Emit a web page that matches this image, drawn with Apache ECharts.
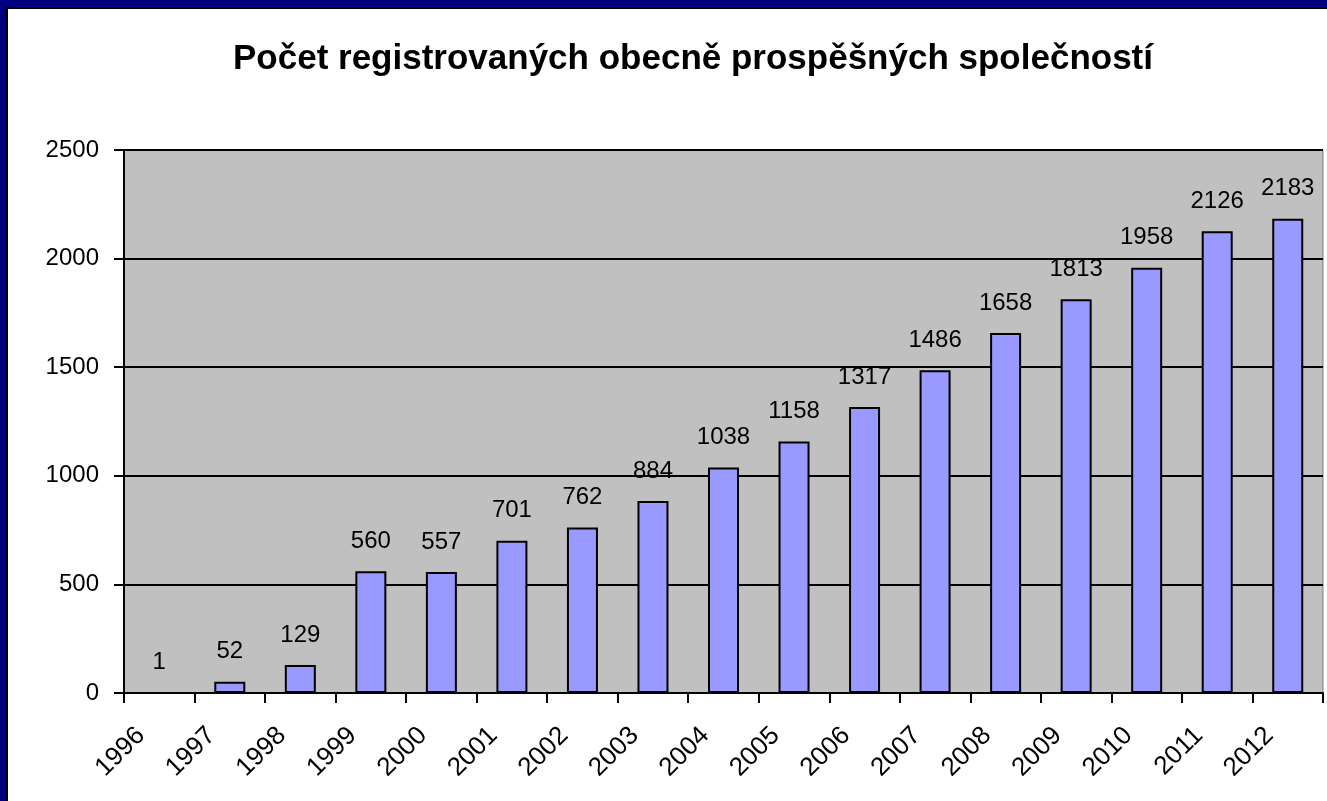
<!DOCTYPE html>
<html>
<head>
<meta charset="utf-8">
<title>Počet registrovaných obecně prospěšných společností</title>
<script src="https://cdn.jsdelivr.net/npm/echarts@6/dist/echarts.min.js"></script>
<style>
  html, body { margin: 0; padding: 0; width: 1327px; height: 801px; overflow: hidden; background: #000080; }
  #frame { position: absolute; left: 6px; top: 7px; width: 1340px; height: 820px; background: #fff;
           border-left: 2px solid #000; border-top: 2px solid #000; }
  #chart { position: absolute; left: 0; top: 0; width: 1327px; height: 801px; }
</style>
</head>
<body>
<div id="frame"></div>
<div id="chart"></div>
<script>
// roky a počty registrovaných o.p.s.
var years = ['1996', '1997', '1998', '1999', '2000', '2001', '2002', '2003', '2004',
  '2005', '2006', '2007', '2008', '2009', '2010', '2011', '2012']
var counts = [1, 52, 129, 560, 557, 701, 762, 884, 1038, 1158, 1317, 1486, 1658, 1813, 1958, 2126, 2183]
var yTicks = [0, 500, 1000, 1500, 2000, 2500]

var font = '"Liberation Sans", Arial, sans-serif'
var chart = echarts.init(document.getElementById('chart'), null, { renderer: 'canvas' })

chart.setOption({
  backgroundColor: 'transparent',
  animation: false,
  title: {
    text: 'Počet registrovaných obecně prospěšných společností',
    left: 228,
    top: 37,
    textStyle: {
      fontFamily: font,
      fontWeight: 'bold',
      fontSize: 35,
      color: '#000'
    }
  },
  grid: {
    left: 124,
    right: 4,
    top: 150,
    bottom: 108,
    show: true,
    backgroundColor: '#c0c0c0',
    borderColor: '#808080',
    borderWidth: 1
  },
  xAxis: {
    type: 'category',
    data: years,
    boundaryGap: true,
    axisLine: { show: true, lineStyle: { color: '#000', width: 2 } },
    axisTick: { show: true, length: 10, lineStyle: { color: '#000', width: 2 } },
    axisLabel: {
      rotate: 45,
      margin: 20,
      padding: [0, 26, 0, 0],
      fontFamily: font,
      fontSize: 26,
      color: '#000',
      interval: 0
    }
  },
  yAxis: {
    type: 'value',
    min: yTicks[0],
    max: yTicks[yTicks.length - 1],
    interval: 500,
    axisLine: { show: true, lineStyle: { color: '#000', width: 2 } },
    axisTick: { show: true, length: 10, lineStyle: { color: '#000', width: 2 } },
    splitLine: { show: true, lineStyle: { color: '#000', width: 2 } },
    axisLabel: {
      margin: 25,
      fontFamily: font,
      fontSize: 24,
      color: '#000',
      formatter: function (v) { return String(v) }
    }
  },
  series: [{
    type: 'bar',
    data: counts,
    barWidth: 31,
    itemStyle: {
      color: '#9999ff',
      borderColor: '#000',
      borderWidth: 2
    },
    label: {
      show: true,
      position: 'top',
      distance: 18,
      fontFamily: font,
      fontSize: 24,
      color: '#000'
    }
  }]
})
</script>
</body>
</html>
